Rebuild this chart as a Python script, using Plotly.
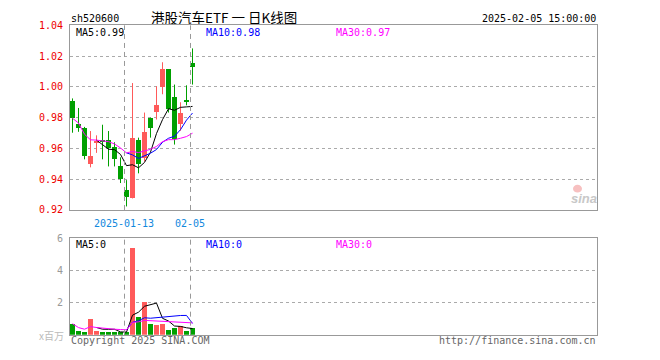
import plotly.graph_objects as go

# ---------------- data ----------------
dates = ["2024-12-30", "2024-12-31", "2025-01-02", "2025-01-03", "2025-01-06",
         "2025-01-07", "2025-01-08", "2025-01-09", "2025-01-10", "2025-01-13",
         "2025-01-14", "2025-01-15", "2025-01-16", "2025-01-17", "2025-01-20",
         "2025-01-21", "2025-01-22", "2025-01-23", "2025-01-24", "2025-01-27",
         "2025-02-05"]
open_ = [0.9906, 0.9754, 0.9733, 0.9494, 0.9638, 0.9650, 0.9650, 0.9604, 0.9483, 0.9325,
         0.9275, 0.9650, 0.9535, 0.9796, 0.9833, 0.9998, 1.0115, 0.9931, 0.9758, 0.9907,
         1.0150]
high = [0.9925, 0.9863, 0.9740, 0.9713, 0.9685, 0.9754, 0.9713, 0.9640, 0.9542, 0.9394,
        1.0025, 0.9670, 0.9833, 0.9800, 1.0004, 1.0160, 1.0115, 1.0015, 0.9900, 1.0010,
        1.0250]
low = [0.9702, 0.9708, 0.9529, 0.9477, 0.9571, 0.9529, 0.9483, 0.9483, 0.9375, 0.9223,
       0.9275, 0.9438, 0.9515, 0.9670, 0.9788, 0.9952, 0.9833, 0.9625, 0.9715, 0.9880,
       1.0015]
close = [0.9796, 0.9733, 0.9546, 0.9550, 0.9646, 0.9637, 0.9598, 0.9529, 0.9396, 0.9280,
         0.9665, 0.9498, 0.9706, 0.9733, 0.9883, 1.0115, 0.9854, 0.9656, 0.9825, 0.9902,
         1.0129]
volume = [0.68, 0.20, 0.14, 0.98, 0.22, 0.16, 0.16, 0.16, 0.16, 0.16,
          5.40, 1.10, 2.00, 0.68, 0.62, 0.68, 0.26, 0.44, 0.56, 0.20,
          0.44]  # 百万

ma5 = [None, None, None, None, 0.9654, 0.9622, 0.9595, 0.9592, 0.9561, 0.9488,
       0.9494, 0.9474, 0.9509, 0.9576, 0.9697, 0.9787, 0.9858, 0.9848, 0.9867, 0.9870,
       0.9873]
ma10 = [None] * 9 + [0.9571, 0.9558, 0.9535, 0.9551, 0.9569, 0.9593, 0.9640, 0.9666,
                     0.9679, 0.9722, 0.9784, 0.9830]
ma30 = [0.9796, 0.9765, 0.9692, 0.9656, 0.9654, 0.9651, 0.9644, 0.9629, 0.9603, 0.9571,
        0.9580, 0.9573, 0.9583, 0.9594, 0.9613, 0.9644, 0.9657, 0.9657, 0.9666, 0.9677,
        0.9699]
vma5 = [None, None, None, None, 0.444, 0.340, 0.332, 0.336, 0.172, 0.160,
        1.208, 1.396, 1.764, 1.868, 1.960, 1.016, 0.848, 0.536, 0.512, 0.428,
        0.380]
vma10 = [None] * 9 + [0.302, 0.774, 0.864, 1.050, 1.020, 1.060, 1.112, 1.122,
                      1.150, 1.190, 1.194, 0.698]
vma30 = [0.680, 0.440, 0.340, 0.500, 0.444, 0.397, 0.363, 0.338, 0.318, 0.302,
         0.766, 0.794, 0.887, 0.871, 0.854, 0.843, 0.809, 0.789, 0.777, 0.748,
         0.733]

price_ticks = [0.92, 0.94, 0.96, 0.98, 1.00, 1.02, 1.04]
vol_ticks = [2, 4, 6]
date_tick_idx = [9, 20]
date_tick_text = ["2025-01-13", "02-05"]

code = "sh520600"
title = "港股汽车ETF 一 日K线图"
stamp = "2025-02-05 15:00:00"

# ---------------- layout geometry ----------------
W, H = 660, 360
SLOTS = 527 / 6.0          # plot width in day slots


def px(x):
    return x / W


def py(y):
    return 1 - y / H


RED = "#ff5a5a"
GREEN = "#00a000"
GRID = "#aaaaaa"
FRAME = "#999999"
MONO = "DejaVu Sans Mono"

n = len(close)
xc = [i + 2.5 / 6 for i in range(n)]
up = [c >= o for o, c in zip(open_, close)]
cols = [RED if u else GREEN for u in up]

fig = go.Figure()


def wick_trace(flag, color):
    xs, ys = [], []
    for i in range(n):
        if up[i] == flag:
            xs += [xc[i], xc[i], None]
            ys += [low[i], high[i], None]
    return go.Scatter(x=xs, y=ys, mode="lines", line=dict(color=color, width=1),
                      xaxis="x", yaxis="y", hoverinfo="skip")


fig.add_trace(wick_trace(True, RED))
fig.add_trace(wick_trace(False, GREEN))
fig.add_trace(go.Bar(x=xc, base=[min(o, c) for o, c in zip(open_, close)],
                     y=[abs(c - o) for o, c in zip(open_, close)],
                     width=5 / 6, marker=dict(color=cols, line=dict(width=0)),
                     xaxis="x", yaxis="y"))
for arr, col in [(ma5, "#000000"), (ma10, "#0000ff"), (ma30, "#ff00ff")]:
    fig.add_trace(go.Scatter(x=xc, y=arr, mode="lines", line=dict(color=col, width=1),
                             xaxis="x", yaxis="y", connectgaps=False))

fig.add_trace(go.Bar(x=xc, y=volume, width=5 / 6,
                     marker=dict(color=cols, line=dict(width=0)),
                     xaxis="x2", yaxis="y2"))
for arr, col in [(vma5, "#000000"), (vma10, "#0000ff"), (vma30, "#ff00ff")]:
    fig.add_trace(go.Scatter(x=xc, y=arr, mode="lines", line=dict(color=col, width=1),
                             xaxis="x2", yaxis="y2", connectgaps=False))

shapes = []
for t in date_tick_idx:
    xv = t + 0.5 / 6
    shapes.append(dict(type="line", xref="x", yref="paper", x0=xv, x1=xv,
                       y0=py(211), y1=py(20), line=dict(color=FRAME, width=1, dash="5px,4px")))
    shapes.append(dict(type="line", xref="x2", yref="paper", x0=xv, x1=xv,
                       y0=py(340), y1=py(240), line=dict(color=FRAME, width=1, dash="5px,4px")))
# small weibo-eye icon of the sina logo
shapes.append(dict(type="circle", xref="paper", yref="paper",
                   x0=px(573), x1=px(582), y0=py(193), y1=py(185),
                   fillcolor="#f7c0c0", line=dict(width=0)))


def ann(text, x, y, color="#000000", anchor="left", size=10, family=MONO, **kw):
    return dict(text=text, x=px(x), y=py(y), xref="paper", yref="paper",
                xanchor=anchor, yanchor="middle", showarrow=False,
                font=dict(family=family, size=size, color=color), **kw)


annotations = [
    ann(code, 69, 13),
    ann(title, 224, 11.5, anchor="center", size=13.5, family="Noto Sans CJK SC",
        height=14),
    ann(stamp, 598, 13, anchor="right"),
    ann("MA5:%.2f" % 0.99, 74, 27),
    ann("MA10:%.2f" % 0.98, 204, 27, color="#0000ff"),
    ann("MA30:%.2f" % 0.97, 334, 27, color="#ff00ff"),
    ann("MA5:0", 74, 246.5),
    ann("MA10:0", 204, 246.5, color="#0000ff"),
    ann("MA30:0", 334, 246.5, color="#ff00ff"),
    ann("x百万", 66, 341, color="#bbbbbb", anchor="right", size=10,
        family="Noto Sans CJK SC"),
    ann("Copyright 2025 SINA.COM", 69, 346.5, color="#666666"),
    ann("http://finance.sina.com.cn", 598, 346.5, color="#666666", anchor="right"),
    ann("<b><i>sina</i></b>", 584, 199, color="#c8c8c8", anchor="center", size=13,
        family="Liberation Sans"),
]

axis_common = dict(showline=True, mirror=True, linecolor=FRAME, linewidth=1,
                   zeroline=False, fixedrange=True)

fig.update_layout(
    width=W, height=H, margin=dict(l=0, r=0, t=0, b=0),
    paper_bgcolor="white", plot_bgcolor="white", showlegend=False,
    hovermode=False, barmode="overlay", bargap=0,
    xaxis=dict(domain=[px(70), px(597)], range=[0, SLOTS], anchor="y",
               showgrid=False, tickvals=date_tick_idx, ticktext=date_tick_text,
               tickfont=dict(family=MONO, size=10, color="#1188dd"),
               ticks="outside", ticklen=4, tickcolor="rgba(0,0,0,0)", **axis_common),
    yaxis=dict(domain=[py(211), py(20)], range=[0.92, 1.04], anchor="x",
               tickvals=price_ticks, ticktext=["%.2f" % v for v in price_ticks],
               tickfont=dict(family=MONO, size=10, color="#ee0000"),
               ticks="outside", ticklen=4, tickcolor="rgba(0,0,0,0)",
               showgrid=True, gridcolor=GRID, griddash="dot", gridwidth=1, **axis_common),
    xaxis2=dict(domain=[px(70), px(597)], range=[0, SLOTS], anchor="y2",
                showgrid=False, showticklabels=False, **axis_common),
    yaxis2=dict(domain=[py(340), py(240)], range=[0, 6], anchor="x2",
                tickvals=vol_ticks, ticktext=[str(v) for v in vol_ticks],
                tickfont=dict(family=MONO, size=10, color="#999999"),
                ticks="outside", ticklen=4, tickcolor="rgba(0,0,0,0)",
                showgrid=True, gridcolor=GRID, griddash="dot", gridwidth=1, **axis_common),
    shapes=shapes, annotations=annotations,
)

fig.write_html("out.html")
